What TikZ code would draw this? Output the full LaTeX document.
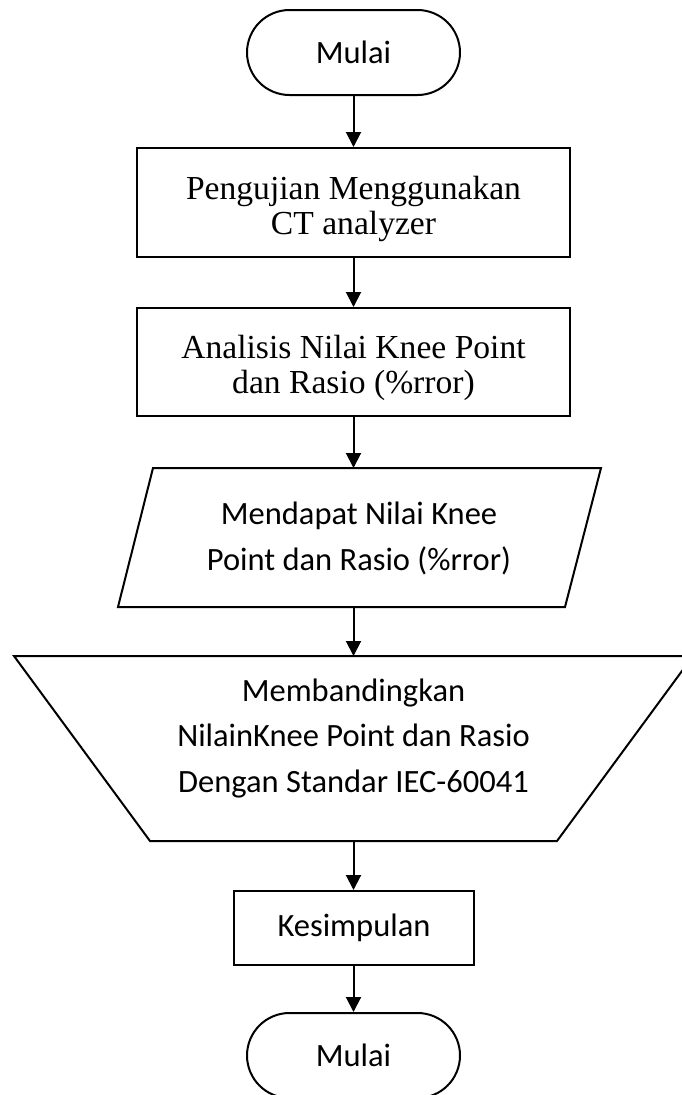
\documentclass[tikz,border=0pt]{standalone}
\usepackage{fontspec}
\setmainfont{Liberation Serif}
\newfontfamily\calfont{Carlito}
\usetikzlibrary{shapes.misc,arrows.meta}
\newcommand{\lowered}[1]{\raisebox{-7pt}[\height][\depth]{\begin{tabular}{@{}c@{}}#1\end{tabular}}}
\begin{document}
\begin{tikzpicture}[x=1pt,y=-1pt,
  shapeline/.style={draw=black,line width=2pt},
  term/.style={shapeline, rounded rectangle, minimum width=213pt, minimum height=85pt, inner sep=0pt, font=\calfont\fontsize{32.5}{45.5}\selectfont},
  procbox/.style={shapeline, rectangle, inner sep=0pt, align=center, font=\fontsize{33.6}{35}\selectfont},
  sansbox/.style={shapeline, rectangle, inner sep=0pt, align=center, font=\calfont\fontsize{32.5}{45.5}\selectfont},
  sanstext/.style={align=center, inner sep=0pt, font=\calfont\fontsize{32.5}{45.5}\selectfont},
  flow/.style={line width=2pt, -{Triangle[length=15pt,width=15pt]}}]
\useasboundingbox (0,0) rectangle (681,1095);
\fill[white] (0,0) rectangle (681,1095);

\node[term] (start) at (353.5,52.5) {Mulai};
\node[procbox, minimum width=433pt, minimum height=109pt] (b1) at (353.5,202.5)
  {\lowered{Pengujian Menggunakan\\CT analyzer}};
\node[procbox, minimum width=433pt, minimum height=108pt] (b2) at (353.5,362)
  {\lowered{Analisis Nilai Knee Point\\dan Rasio (\%rror)}};

% parallelogram
\node[sanstext] (para) at (359,538.5) {Mendapat Nilai Knee\\Point dan Rasio (\%rror)};
\draw[shapeline] (153,468) -- (601,468) -- (565,607) -- (118,607) -- cycle;
\coordinate (paraN) at (353.5,468);
\coordinate (paraS) at (353.5,607);

% trapezoid
\node[sanstext] (cmp) at (353.5,738) {Membandingkan\\NilainKnee Point dan Rasio\\Dengan Standar IEC-60041};
\draw[shapeline] (14,656) -- (693,656) -- (557,841) -- (150,841) -- cycle;
\coordinate (cmpN) at (353.5,656);
\coordinate (cmpS) at (353.5,841);

\node[sansbox, minimum width=240pt, minimum height=74pt] (kes) at (354,928) {Kesimpulan};
\node[term] (stop) at (353.5,1055.5) {Mulai};

\draw[flow] (start.south) -- (b1.north);
\draw[flow] (b1.south) -- (b2.north);
\draw[flow] (b2.south) -- (paraN);
\draw[flow] (paraS) -- (cmpN);
\draw[flow] (cmpS) -- (kes.north -| cmpS);
\draw[flow] (kes.south -| cmpS) -- (stop.north -| cmpS);
\end{tikzpicture}
\end{document}
